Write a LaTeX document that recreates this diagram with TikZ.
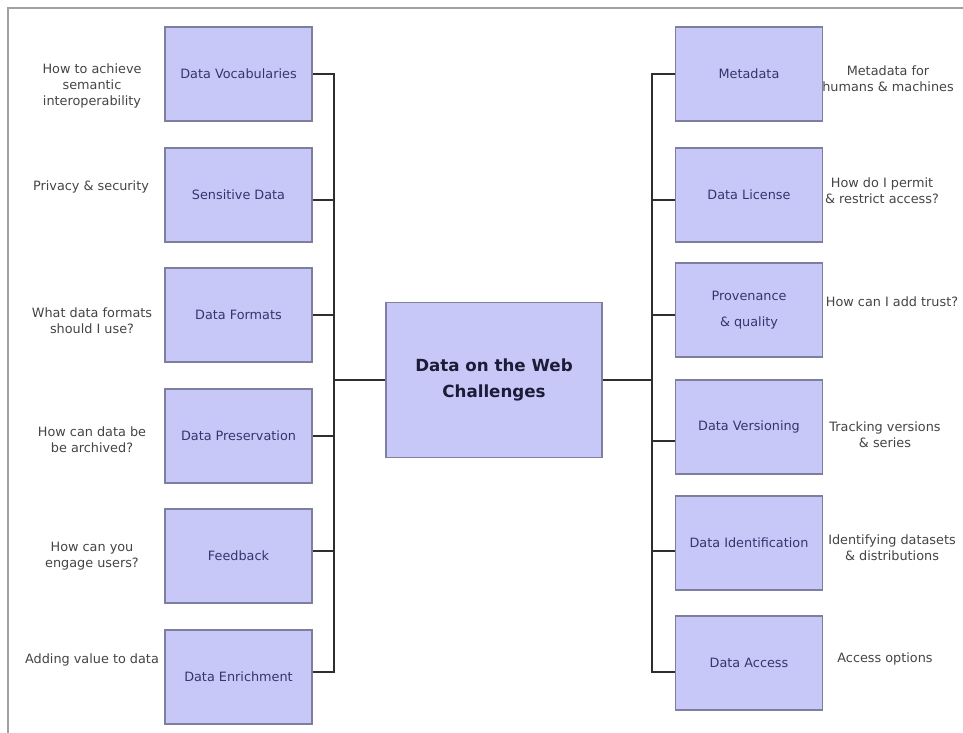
\documentclass[tikz,border=0pt]{standalone}
\usepackage{fontspec}
\setmainfont{DejaVu Sans}
\definecolor{boxfill}{HTML}{C8C8F8}
\definecolor{boxline}{HTML}{7E7E9E}
\definecolor{boxtext}{HTML}{35356E}
\definecolor{hubtext}{HTML}{1C1C38}
\definecolor{notetext}{HTML}{444444}
\definecolor{linkcol}{HTML}{2E2E2E}
\definecolor{framecol}{HTML}{A0A0A0}

\begin{document}
\begin{tikzpicture}[x=0.02cm,y=-0.02cm,
  topic/.style={draw=boxline,line width=0.6pt,fill=boxfill,text=boxtext,
    minimum width=2.94cm,minimum height=1.88cm,inner sep=2pt,align=center,
    font=\fontsize{7.3}{9}\selectfont},
  hub/.style={topic,text=hubtext,minimum width=4.32cm,minimum height=3.1cm,
    font=\fontsize{9.5}{15}\selectfont\bfseries},
  note/.style={text=notetext,align=center,inner sep=0pt,font=\fontsize{7.3}{9}\selectfont},
  link/.style={draw=linkcol,line width=1.1pt}]
\useasboundingbox (0,0) rectangle (963,733);
% frame (top and left edge only)
\draw[framecol,line width=0.8pt] (8,733) -- (8,8) -- (963,8);
% centre
\node[hub] (hub) at (494,380) {Data on the Web\\Challenges};
\coordinate (ljoin) at (334,380);
\coordinate (rjoin) at (652,380);
% left column
\node[topic] (voc)  at (238.5,74)  {Data Vocabularies};
\node[topic] (sens) at (238.5,195) {Sensitive Data};
\node[topic] (fmt)  at (238.5,315) {Data Formats};
\node[topic] (pres) at (238.5,436) {Data Preservation};
\node[topic] (fb)   at (238.5,556) {Feedback};
\node[topic] (enr)  at (238.5,677) {Data Enrichment};
% right column
\node[topic] (meta)  at (749,74)  {Metadata};
\node[topic] (lic)   at (749,195) {Data License};
\node[topic] (prov)  at (749,310) {Provenance\\[6pt]\& quality};
\node[topic] (vers)  at (749,427) {Data Versioning};
\node[topic] (ident) at (749,543) {Data Identification};
\node[topic] (acc)   at (749,663) {Data Access};
% left notes
\node[note] (vocn)  at (92,86)  {How to achieve\\semantic\\interoperability};
\node[note] (sensn) at (91,187) {Privacy \& security};
\node[note] (fmtn)  at (92,321) {What data formats\\should I use?};
\node[note] (presn) at (92,440) {How can data be\\be archived?};
\node[note] (fbn)   at (92,556) {How can you\\engage users?};
\node[note] (enrn)  at (92,660) {Adding value to data};
% right notes
\node[note] (metan)  at (888,79)  {Metadata for\\humans \& machines};
\node[note] (licn)   at (882,191) {How do I permit\\\& restrict access?};
\node[note] (provn)  at (892,302) {How can I add trust?};
\node[note] (versn)  at (885,435) {Tracking versions\\\& series};
\node[note] (identn) at (892,548) {Identifying datasets\\\& distributions};
\node[note] (accn)   at (885,659) {Access options};
% tree on the left
\draw[link] (voc.east) -| (ljoin);
\draw[link] ([yshift=-0.1cm]sens.east) -| (ljoin);
\draw[link] (fmt.east) -| (ljoin);
\draw[link] (pres.east) -| (ljoin);
\draw[link] ([yshift=0.1cm]fb.east) -| (ljoin);
\draw[link] ([yshift=0.1cm]enr.east) -| (ljoin);
\draw[link] (ljoin) -- (hub.west);
% tree on the right
\draw[link] (meta.west) -| (rjoin);
\draw[link] ([yshift=-0.1cm]lic.west) -| (rjoin);
\draw[link] ([yshift=-0.1cm]prov.west) -| (rjoin);
\draw[link] ([yshift=-0.28cm]vers.west) -| (rjoin);
\draw[link] ([yshift=-0.16cm]ident.west) -| (rjoin);
\draw[link] ([yshift=-0.18cm]acc.west) -| (rjoin);
\draw[link] (hub.east) -- (rjoin);
\end{tikzpicture}
\end{document}
